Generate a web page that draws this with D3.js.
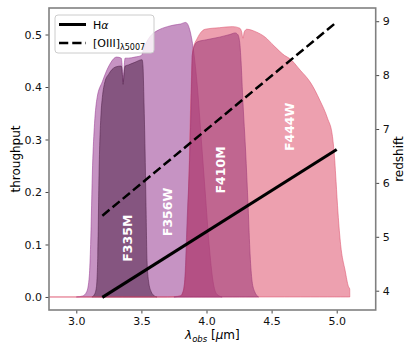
<!DOCTYPE html>
<html>
<head>
<meta charset="utf-8">
<script src="https://cdn.jsdelivr.net/npm/d3@7"></script>
<style>
  body { margin: 0; background: #fff; }
  svg text { font-family: "DejaVu Sans", sans-serif; }
</style>
</head>
<body>
<div id="chart"></div>
<script>
// filter throughput curves (wavelength in micron, throughput)
const f356wWave = [3.00, 3.05, 3.08, 3.10, 3.11, 3.125, 3.14, 3.16, 3.20, 3.25, 3.31, 3.345, 3.355, 3.36, 3.365, 3.375, 3.40, 3.45, 3.50, 3.52, 3.55, 3.58, 3.62, 3.70, 3.75, 3.80, 3.84, 3.87, 3.90, 3.93, 3.96, 3.99, 4.02, 4.05, 4.08, 4.12];
const f356wThru = [0, 0.002, 0.01, 0.04, 0.10, 0.25, 0.33, 0.38, 0.41, 0.44, 0.457, 0.455, 0.43, 0.41, 0.43, 0.455, 0.455, 0.457, 0.46, 0.475, 0.49, 0.50, 0.507, 0.515, 0.518, 0.52, 0.523, 0.51, 0.47, 0.40, 0.30, 0.20, 0.10, 0.03, 0.005, 0];

const f335mWave = [3.12, 3.14, 3.155, 3.165, 3.175, 3.19, 3.20, 3.22, 3.25, 3.30, 3.345, 3.355, 3.36, 3.365, 3.375, 3.40, 3.45, 3.505, 3.512, 3.52, 3.528, 3.535, 3.543, 3.555, 3.575, 3.60, 3.62];
const f335mThru = [0, 0.005, 0.02, 0.08, 0.24, 0.35, 0.38, 0.41, 0.425, 0.438, 0.44, 0.42, 0.405, 0.42, 0.44, 0.442, 0.447, 0.452, 0.44, 0.37, 0.28, 0.18, 0.07, 0.03, 0.01, 0.002, 0];

const f444wWave = [2.70, 3.70, 3.80, 3.82, 3.84, 3.86, 3.88, 3.895, 3.93, 3.96, 3.99, 4.10, 4.20, 4.255, 4.27, 4.28, 4.29, 4.31, 4.38, 4.45, 4.52, 4.60, 4.64, 4.72, 4.80, 4.87, 4.93, 4.965, 4.985, 4.995, 5.01, 5.03, 5.065, 5.09, 5.10, 5.1005];
const f444wThru = [0, 0, 0.002, 0.01, 0.05, 0.18, 0.38, 0.47, 0.493, 0.505, 0.51, 0.513, 0.515, 0.512, 0.505, 0.493, 0.505, 0.51, 0.505, 0.495, 0.478, 0.46, 0.454, 0.432, 0.408, 0.375, 0.34, 0.31, 0.26, 0.22, 0.16, 0.10, 0.05, 0.02, 0.015, 0];

const f410mWave = [3.75, 3.80, 3.82, 3.835, 3.85, 3.87, 3.885, 3.89, 3.91, 3.93, 4.00, 4.10, 4.18, 4.22, 4.24, 4.255, 4.265, 4.28, 4.30, 4.32, 4.335, 4.35, 4.37, 4.40];
const f410mThru = [0, 0.002, 0.01, 0.04, 0.14, 0.26, 0.40, 0.46, 0.48, 0.486, 0.49, 0.495, 0.50, 0.503, 0.50, 0.485, 0.45, 0.37, 0.28, 0.17, 0.08, 0.03, 0.01, 0];

// filter names, label positions (wavelength, throughput), colours, in drawing order
const filterNames = ["F356W", "F335M", "F444W", "F410M"];
const filterColors = ["#973b92", "#502249", "#de526e", "#9b3777"];
const labelWave = [3.70, 3.39, 4.64, 4.11];
const labelThru = [0.162, 0.112, 0.324, 0.242];

// emission line redshift tracks
const lineWave = [3.2, 5.0];
const zHalpha = [3.876, 6.618];
const zOIII = [5.391, 8.986];

const xTicks = [3.0, 3.5, 4.0, 4.5, 5.0];
const yTicks = [0.0, 0.1, 0.2, 0.3, 0.4, 0.5];
const zTicks = [4, 5, 6, 7, 8, 9];

const filterWave = [f356wWave, f335mWave, f444wWave, f410mWave];
const filterThru = [f356wThru, f335mThru, f444wThru, f410mThru];

const width = 415, height = 356;
const margin = { left: 49, right: 39.3, top: 8, bottom: 46 };
const fillAlpha = 0.55;

const svg = d3.select("#chart").append("svg")
    .attr("width", width)
    .attr("height", height);

const x = d3.scaleLinear().domain([2.7903, 5.2995]).range([margin.left, width - margin.right]);
const y = d3.scaleLinear().domain([-0.0248, 0.5505]).range([height - margin.bottom, margin.top]);
const z = d3.scaleLinear().domain([3.642, 9.245]).range([height - margin.bottom, margin.top]);

svg.append("clipPath").attr("id", "plotClip")
  .append("rect")
    .attr("x", margin.left).attr("y", margin.top)
    .attr("width", width - margin.left - margin.right)
    .attr("height", height - margin.top - margin.bottom);

const plot = svg.append("g").attr("clip-path", "url(#plotClip)");

// filters
filterNames.forEach((name, i) => {
    const pts = filterWave[i].map((w, j) => [w, filterThru[i][j]]);
    const area = d3.area()
        .curve(d3.curveMonotoneX)
        .x(d => x(d[0]))
        .y0(y(0))
        .y1(d => y(d[1]));
    plot.append("path")
        .datum(pts)
        .attr("d", area)
        .attr("fill", filterColors[i])
        .attr("fill-opacity", fillAlpha)
        .attr("stroke", filterColors[i])
        .attr("stroke-opacity", fillAlpha)
        .attr("stroke-width", 1);
});

// filter labels
filterNames.forEach((name, i) => {
    const lx = x(labelWave[i]), ly = y(labelThru[i]);
    plot.append("text")
        .attr("transform", `translate(${lx},${ly}) rotate(-90)`)
        .attr("text-anchor", "middle")
        .attr("dy", "0.36em")
        .attr("fill", "#fff")
        .attr("font-weight", "bold")
        .attr("font-size", 12.5)
        .text(name);
});

// redshift lines
const zLine = d3.line().x(d => x(d[0])).y(d => z(d[1]));
plot.append("path")
    .datum(lineWave.map((w, i) => [w, zOIII[i]]))
    .attr("d", zLine)
    .attr("fill", "none")
    .attr("stroke", "#000")
    .attr("stroke-width", 2.5)
    .attr("stroke-dasharray", "9.25,4");
plot.append("path")
    .datum(lineWave.map((w, i) => [w, zHalpha[i]]))
    .attr("d", zLine)
    .attr("fill", "none")
    .attr("stroke", "#000")
    .attr("stroke-width", 3);

// axes
const tickFont = 11;
function styleAxis(g) {
    g.select(".domain").remove();
    g.selectAll(".tick line").attr("stroke", "#333").attr("stroke-width", 0.9);
    g.selectAll(".tick text").attr("font-size", tickFont).attr("fill", "#111")
        .attr("font-family", "DejaVu Sans, sans-serif");
}

svg.append("g")
    .attr("transform", `translate(0,${height - margin.bottom})`)
    .call(d3.axisBottom(x).tickValues(xTicks).tickFormat(d3.format(".1f")).tickSize(3.5).tickPadding(3.5))
    .call(styleAxis);

svg.append("g")
    .attr("transform", `translate(${margin.left},0)`)
    .call(d3.axisLeft(y).tickValues(yTicks).tickFormat(d3.format(".1f")).tickSize(3.5).tickPadding(3.5))
    .call(styleAxis);

svg.append("g")
    .attr("transform", `translate(${width - margin.right},0)`)
    .call(d3.axisRight(z).tickValues(zTicks).tickFormat(d3.format("d")).tickSize(3.5).tickPadding(3.5))
    .call(styleAxis);

// frame
svg.append("rect")
    .attr("x", margin.left).attr("y", margin.top)
    .attr("width", width - margin.left - margin.right)
    .attr("height", height - margin.top - margin.bottom)
    .attr("fill", "none")
    .attr("stroke", "#808080")
    .attr("stroke-width", 1.6);

// axis labels
svg.append("text")
    .attr("transform", `translate(16,${(margin.top + height - margin.bottom) / 2}) rotate(-90)`)
    .attr("text-anchor", "middle")
    .attr("dy", "0.36em")
    .attr("font-size", 12)
    .text("throughput");

svg.append("text")
    .attr("transform", `translate(399,${(margin.top + height - margin.bottom) / 2}) rotate(-90)`)
    .attr("text-anchor", "middle")
    .attr("dy", "0.36em")
    .attr("font-size", 12)
    .text("redshift");

const xl = svg.append("text")
    .attr("x", (margin.left + width - margin.right) / 2)
    .attr("y", 339)
    .attr("text-anchor", "middle")
    .attr("font-size", 12);
xl.append("tspan").attr("font-style", "italic").text("λ");
xl.append("tspan").attr("font-style", "italic").attr("font-size", 8.5).attr("dy", 2.5).text("obs");
xl.append("tspan").attr("dy", -2.5).text(" [");
xl.append("tspan").attr("font-style", "italic").text("μ");
xl.append("tspan").text("m]");

// legend
const legend = svg.append("g").attr("transform", "translate(55,15)");
legend.append("rect")
    .attr("width", 99).attr("height", 38)
    .attr("rx", 3)
    .attr("fill", "#fff").attr("fill-opacity", 0.8)
    .attr("stroke", "#ccc").attr("stroke-width", 1);
legend.append("line")
    .attr("x1", 4).attr("x2", 31).attr("y1", 9.5).attr("y2", 9.5)
    .attr("stroke", "#000").attr("stroke-width", 3);
legend.append("line")
    .attr("x1", 4).attr("x2", 31).attr("y1", 28).attr("y2", 28)
    .attr("stroke", "#000").attr("stroke-width", 2.5).attr("stroke-dasharray", "9.25,4");
const t1 = legend.append("text").attr("x", 38).attr("y", 13.5).attr("font-size", 11);
t1.append("tspan").text("H");
t1.append("tspan").attr("font-style", "italic").text("α");
const t2 = legend.append("text").attr("x", 38).attr("y", 32).attr("font-size", 11);
t2.append("tspan").text("[OIII]");
t2.append("tspan").attr("font-size", 8).attr("dy", 2.5).text("λ5007");
</script>
</body>
</html>
